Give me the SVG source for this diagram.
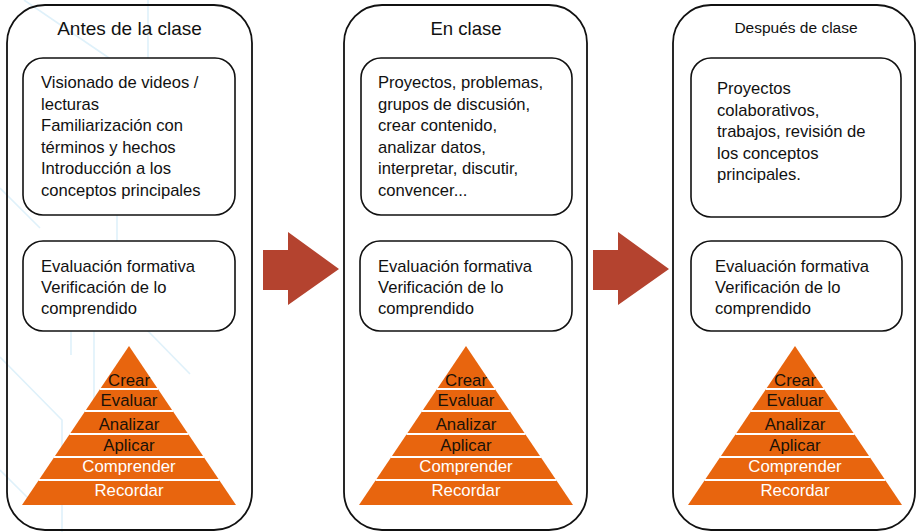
<svg xmlns="http://www.w3.org/2000/svg" xmlns:xlink="http://www.w3.org/1999/xlink" width="917" height="532" viewBox="0 0 917 532">
  <style>
    .outer { fill: none; stroke: #111; stroke-width: 1.8; }
    .inner { fill: #fff; stroke: #111; stroke-width: 1.6; }
    .title { font-family: "Liberation Sans", Arial, sans-serif; fill: #111; text-anchor: middle; }
    .body { font-family: "Liberation Sans", Arial, sans-serif; font-size: 16.6px; fill: #111; }
    .lvl { font-family: "Liberation Sans", Arial, sans-serif; font-size: 16.8px; text-anchor: middle; }
    .dark { fill: #1a1208; }
    .light { fill: #fff; }
    .arrow { fill: #b4432f; }
    .circuit { fill: none; stroke: #dff1fa; stroke-width: 1.6; }
  </style>
  <defs>
    <!-- Bloom pyramid, apex at (0,0) -->
    <g id="pyramid">
      <polygon points="0,0 107,159 -107,159" fill="#e8650e"/>
      <g stroke="#fff" stroke-width="2">
        <line x1="-29" y1="43" x2="29" y2="43"/>
        <line x1="-44" y1="65" x2="44" y2="65"/>
        <line x1="-59.5" y1="88" x2="59.5" y2="88"/>
        <line x1="-75" y1="111" x2="75" y2="111"/>
        <line x1="-90.5" y1="134" x2="90.5" y2="134"/>
      </g>
    </g>
  </defs>

  <rect width="917" height="532" fill="#fff"/>

  <!-- faint background circuit lines -->
  <g class="circuit">
    <polyline points="24,0 112,60 190,112"/>
    <line x1="117" y1="95" x2="117" y2="262"/>
    <line x1="148" y1="0" x2="148" y2="60"/>
    <polyline points="0,188 40,228"/>
    <polyline points="0,357 62,420 62,532"/>
    <line x1="94" y1="330" x2="94" y2="410"/>
    <line x1="71" y1="330" x2="71" y2="355"/>
    <polyline points="147,330 190,374"/>
    <polyline points="0,470 30,500"/>
  </g>

  <!-- column 1 -->
  <g id="antes">
    <rect class="outer" x="7" y="5" width="245" height="525" rx="38"/>
    <text class="title" x="129.5" y="35" font-size="19">Antes de la clase</text>
    <rect class="inner" x="23" y="58" width="212" height="157" rx="20"/>
    <text class="body">
      <tspan x="41" y="88">Visionado de videos /</tspan>
      <tspan x="41" y="109.5">lecturas</tspan>
      <tspan x="41" y="131">Familiarización con</tspan>
      <tspan x="41" y="152.5">términos y hechos</tspan>
      <tspan x="41" y="174">Introducción a los</tspan>
      <tspan x="41" y="195.5">conceptos principales</tspan>
    </text>
    <rect class="inner" x="23" y="241" width="212" height="90" rx="20"/>
    <text class="body">
      <tspan x="41" y="271.5">Evaluación formativa</tspan>
      <tspan x="41" y="292.5">Verificación de lo</tspan>
      <tspan x="41" y="313.5">comprendido</tspan>
    </text>
    <use xlink:href="#pyramid" x="129" y="346"/>
    <text class="lvl dark" x="129" y="386">Crear</text>
    <text class="lvl dark" x="129" y="406">Evaluar</text>
    <text class="lvl dark" x="129" y="430">Analizar</text>
    <text class="lvl dark" x="129" y="451">Aplicar</text>
    <text class="lvl light" x="129" y="472">Comprender</text>
    <text class="lvl light" x="129" y="496">Recordar</text>
  </g>

  <!-- column 2 -->
  <g id="en-clase">
    <rect class="outer" x="344" y="5" width="243" height="525" rx="38"/>
    <text class="title" x="466" y="35" font-size="18.5">En clase</text>
    <rect class="inner" x="361" y="58" width="211" height="157" rx="20"/>
    <text class="body">
      <tspan x="378" y="88">Proyectos, problemas,</tspan>
      <tspan x="378" y="109.5">grupos de discusión,</tspan>
      <tspan x="378" y="131">crear contenido,</tspan>
      <tspan x="378" y="152.5">analizar datos,</tspan>
      <tspan x="378" y="174">interpretar, discutir,</tspan>
      <tspan x="378" y="195.5">convencer...</tspan>
    </text>
    <rect class="inner" x="360" y="241" width="212" height="90" rx="20"/>
    <text class="body">
      <tspan x="378" y="271.5">Evaluación formativa</tspan>
      <tspan x="378" y="292.5">Verificación de lo</tspan>
      <tspan x="378" y="313.5">comprendido</tspan>
    </text>
    <use xlink:href="#pyramid" x="466" y="346"/>
    <text class="lvl dark" x="466" y="386">Crear</text>
    <text class="lvl dark" x="466" y="406">Evaluar</text>
    <text class="lvl dark" x="466" y="430">Analizar</text>
    <text class="lvl dark" x="466" y="451">Aplicar</text>
    <text class="lvl light" x="466" y="472">Comprender</text>
    <text class="lvl light" x="466" y="496">Recordar</text>
  </g>

  <!-- column 3 -->
  <g id="despues">
    <rect class="outer" x="673" y="5" width="242" height="525" rx="38"/>
    <text class="title" x="796" y="33" font-size="15.5">Después de clase</text>
    <rect class="inner" x="691" y="58" width="210" height="159" rx="20"/>
    <text class="body">
      <tspan x="717" y="94">Proyectos</tspan>
      <tspan x="717" y="115.5">colaborativos,</tspan>
      <tspan x="717" y="137">trabajos, revisión de</tspan>
      <tspan x="717" y="158.5">los conceptos</tspan>
      <tspan x="717" y="180">principales.</tspan>
    </text>
    <rect class="inner" x="691" y="241" width="211" height="90" rx="20"/>
    <text class="body">
      <tspan x="715" y="271.5">Evaluación formativa</tspan>
      <tspan x="715" y="292.5">Verificación de lo</tspan>
      <tspan x="715" y="313.5">comprendido</tspan>
    </text>
    <use xlink:href="#pyramid" x="795" y="346"/>
    <text class="lvl dark" x="795" y="386">Crear</text>
    <text class="lvl dark" x="795" y="406">Evaluar</text>
    <text class="lvl dark" x="795" y="430">Analizar</text>
    <text class="lvl dark" x="795" y="451">Aplicar</text>
    <text class="lvl light" x="795" y="472">Comprender</text>
    <text class="lvl light" x="795" y="496">Recordar</text>
  </g>

  <!-- block arrows between the columns -->
  <g id="connectors">
    <polygon class="arrow" points="263,250 288,250 288,232 339,269 288,305 288,290 263,290"/>
    <polygon class="arrow" points="593,250 618,250 618,232 669,269 618,305 618,290 593,290"/>
  </g>
</svg>
